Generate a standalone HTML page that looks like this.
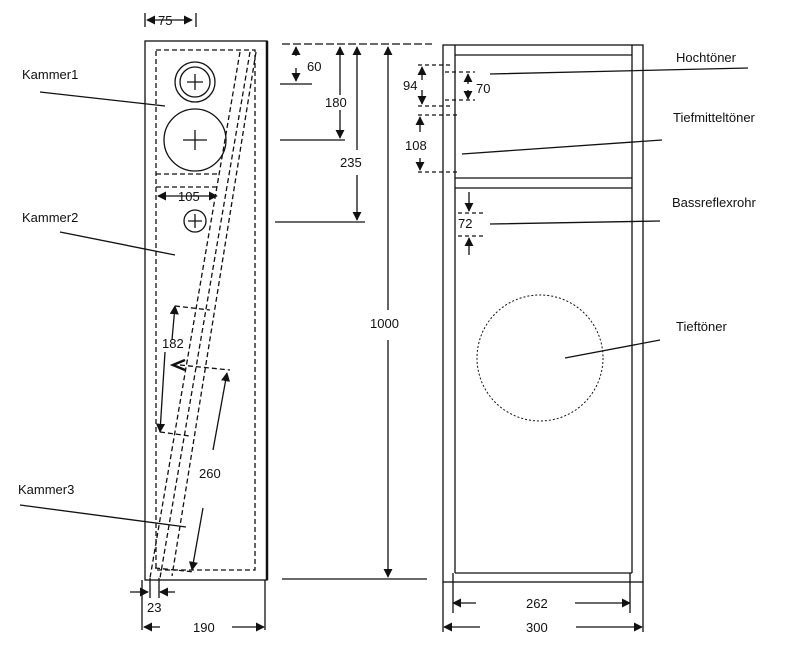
<!DOCTYPE html>
<html><head><meta charset="utf-8"><style>
body{margin:0;background:#fff}
svg{display:block}
text{font-family:"Liberation Sans",sans-serif;font-size:13px;fill:#111}
</style></head><body>
<svg width="800" height="654" viewBox="0 0 800 654" xmlns="http://www.w3.org/2000/svg">
<defs>
<marker id="a" viewBox="0 0 10 10" refX="9" refY="5" markerWidth="7" markerHeight="7" orient="auto-start-reverse"><path d="M0,0L10,5L0,10z" fill="#111"/></marker>
</defs>
<g stroke="#111" fill="none" stroke-width="1.3">
<!-- left cabinet -->
<rect x="145" y="41" width="122" height="539"/>
<line x1="267" y1="41" x2="267" y2="580" stroke-width="2.5"/>
<g stroke-dasharray="5,3">
<rect x="156" y="50" width="99" height="520"/>
<line x1="156" y1="174" x2="220" y2="174"/>
<line x1="156" y1="187" x2="218" y2="187"/>
<line x1="240" y1="52" x2="150" y2="578"/>
<line x1="250" y1="52" x2="160" y2="578"/>
<line x1="256" y1="52" x2="172" y2="576"/>
<line x1="175" y1="306" x2="210" y2="310"/>
<line x1="180" y1="365" x2="230" y2="370"/>
<line x1="160" y1="432" x2="190" y2="436"/>
<line x1="155" y1="568" x2="195" y2="572"/>
</g>
<circle cx="195" cy="82" r="20"/><circle cx="195" cy="82" r="15"/>
<circle cx="195" cy="140" r="31"/>
<circle cx="195" cy="221" r="11"/>
<path d="M187,82h16M195,74v16M183,140h24M195,130v20M188,221h14M195,214v14"/>
<!-- dims left cabinet -->
<line x1="147" y1="20" x2="192" y2="20" marker-start="url(#a)" marker-end="url(#a)"/>
<path d="M145,13v14M196,13v14"/>
<line x1="158" y1="196" x2="217" y2="196" marker-start="url(#a)" marker-end="url(#a)"/>
<line x1="172" y1="340" x2="175" y2="306" marker-end="url(#a)"/>
<line x1="165" y1="352" x2="160" y2="432" marker-end="url(#a)"/>
<path d="M185,360l-12,5l12,5" stroke-width="2.5"/>
<line x1="213" y1="450" x2="227" y2="373" marker-end="url(#a)"/>
<line x1="203" y1="508" x2="192" y2="570" marker-end="url(#a)"/>
<line x1="130" y1="592" x2="148" y2="592" marker-end="url(#a)"/>
<line x1="175" y1="592" x2="160" y2="592" marker-end="url(#a)"/>
<path d="M150,578v20M159,578v20M142,580v50M265,580v50"/>
<line x1="160" y1="627" x2="144" y2="627" marker-end="url(#a)"/>
<line x1="232" y1="627" x2="264" y2="627" marker-end="url(#a)"/>
<!-- middle dims -->
<path d="M282,44h150" stroke-dasharray="8,3"/>
<path d="M280,84h32M280,140h65M275,222h90M282,579h145"/>
<line x1="296" y1="56" x2="296" y2="47" marker-end="url(#a)"/>
<line x1="296" y1="68" x2="296" y2="81" marker-end="url(#a)"/>
<line x1="340" y1="95" x2="340" y2="47" marker-end="url(#a)"/>
<line x1="340" y1="110" x2="340" y2="138" marker-end="url(#a)"/>
<line x1="357" y1="150" x2="357" y2="47" marker-end="url(#a)"/>
<line x1="357" y1="175" x2="357" y2="220" marker-end="url(#a)"/>
<line x1="388" y1="310" x2="388" y2="47" marker-end="url(#a)"/>
<line x1="388" y1="340" x2="388" y2="577" marker-end="url(#a)"/>
<!-- right cabinet -->
<rect x="443" y="45" width="200" height="537"/>
<path d="M455,45v528M632,45v528M455,55h177M455,178h177M455,188h177M455,573h177"/>
<circle cx="540" cy="358" r="63" stroke-dasharray="2,2" stroke-width="1"/>
<g stroke-dasharray="4,3">
<path d="M418,65h32M418,106h32M418,115h40M418,172h40M445,72h30M445,100h30M458,213h25M458,236h25"/>
</g>
<line x1="422" y1="80" x2="422" y2="67" marker-end="url(#a)"/>
<line x1="422" y1="90" x2="422" y2="104" marker-end="url(#a)"/>
<line x1="468" y1="84" x2="468" y2="74" marker-end="url(#a)"/>
<line x1="468" y1="90" x2="468" y2="99" marker-end="url(#a)"/>
<line x1="420" y1="132" x2="420" y2="117" marker-end="url(#a)"/>
<line x1="420" y1="158" x2="420" y2="170" marker-end="url(#a)"/>
<line x1="469" y1="192" x2="469" y2="211" marker-end="url(#a)"/>
<line x1="469" y1="255" x2="469" y2="238" marker-end="url(#a)"/>
<line x1="476" y1="603" x2="453" y2="603" marker-end="url(#a)"/>
<line x1="575" y1="603" x2="630" y2="603" marker-end="url(#a)"/>
<line x1="480" y1="627" x2="444" y2="627" marker-end="url(#a)"/>
<line x1="576" y1="627" x2="642" y2="627" marker-end="url(#a)"/>
<path d="M443,582v50M643,582v50M453,573v40M630,573v40"/>
<!-- leaders -->
<path d="M490,74L748,68M462,154L662,140M490,224L660,221M565,358L660,340M40,92L165,106M60,232L175,255M20,505L186,527"/>
</g>
<text x="158" y="25">75</text>
<text x="178" y="201">105</text>
<text x="162" y="348">182</text>
<text x="199" y="478">260</text>
<text x="147" y="612">23</text>
<text x="193" y="632">190</text>
<text x="307" y="71">60</text>
<text x="325" y="107">180</text>
<text x="340" y="167">235</text>
<text x="370" y="328">1000</text>
<text x="403" y="90">94</text>
<text x="476" y="93">70</text>
<text x="405" y="150">108</text>
<text x="458" y="228">72</text>
<text x="526" y="608">262</text>
<text x="526" y="632">300</text>
<text x="676" y="62">Hochtöner</text>
<text x="673" y="122">Tiefmitteltöner</text>
<text x="672" y="207">Bassreflexrohr</text>
<text x="676" y="331">Tieftöner</text>
<text x="22" y="79">Kammer1</text>
<text x="22" y="222">Kammer2</text>
<text x="18" y="494">Kammer3</text>
</svg>
</body></html>
